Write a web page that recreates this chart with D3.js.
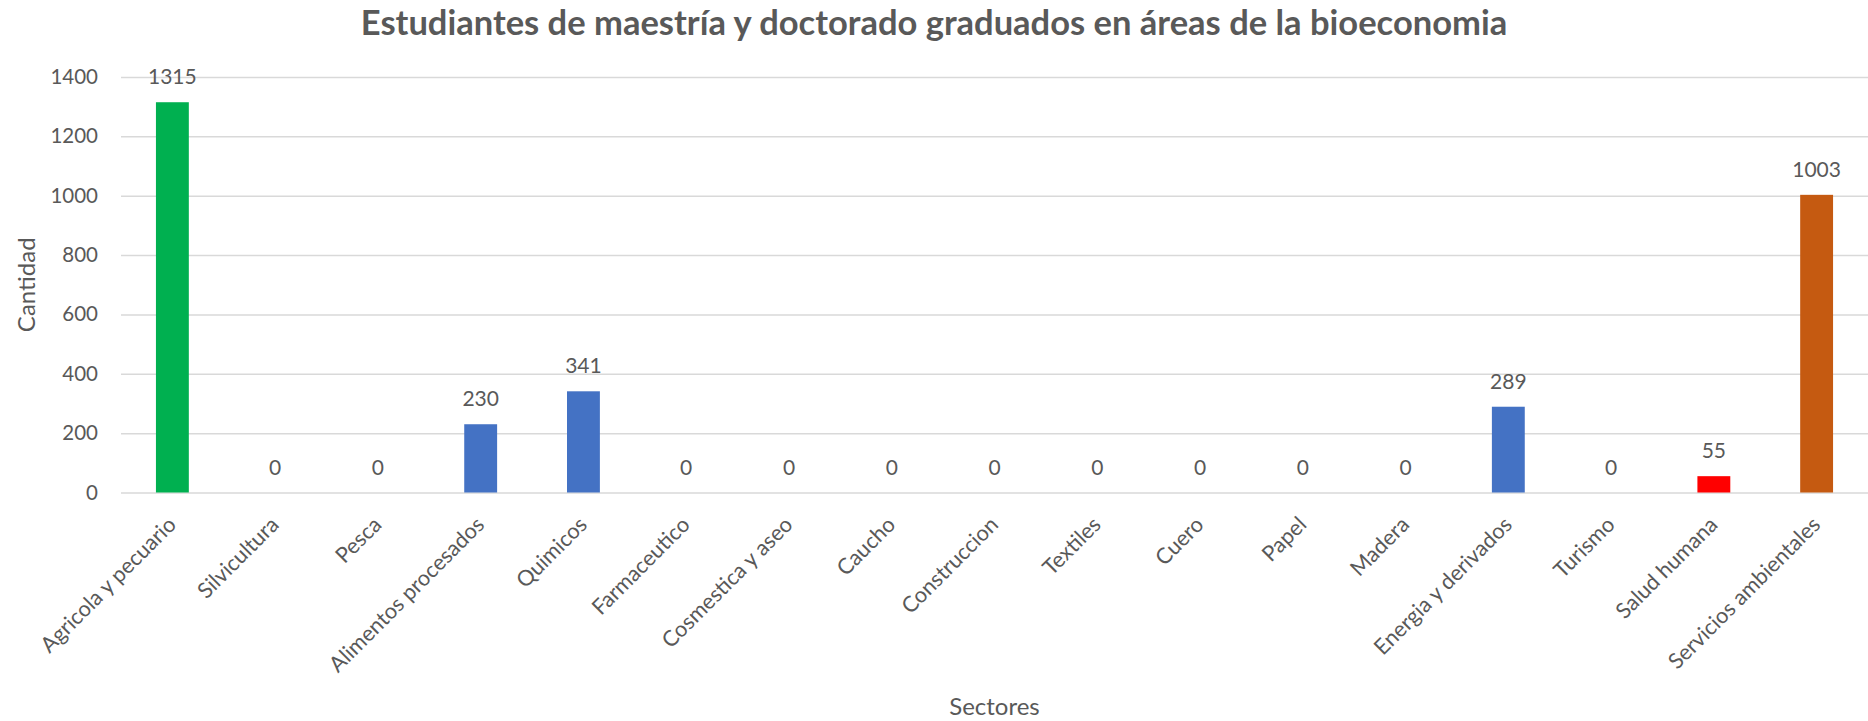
<!DOCTYPE html>
<html>
<head>
<meta charset="utf-8">
<script src="https://cdn.jsdelivr.net/npm/d3@7"></script>
<style>
  body { margin: 0; background: #fff; }
  text { font-family: Lato, "Open Sans", sans-serif; fill: #595959; }
</style>
</head>
<body>
<script>
// datos del grafico
var sectores = ["Agricola y pecuario", "Silvicultura", "Pesca", "Alimentos procesados", "Quimicos",
  "Farmaceutico", "Cosmestica y aseo", "Caucho", "Construccion", "Textiles", "Cuero", "Papel",
  "Madera", "Energia y derivados", "Turismo", "Salud humana", "Servicios ambientales"];
var cantidad = [1315, 0, 0, 230, 341, 0, 0, 0, 0, 0, 0, 0, 0, 289, 0, 55, 1003];
var colores = ["#00b050", "#4472c4", "#4472c4", "#4472c4", "#4472c4", "#4472c4", "#4472c4", "#4472c4",
  "#4472c4", "#4472c4", "#4472c4", "#4472c4", "#4472c4", "#4472c4", "#4472c4", "#ff0000", "#c55a11"];
var yTicks = [0, 200, 400, 600, 800, 1000, 1200, 1400];

var titulo = "Estudiantes de maestría y doctorado graduados en áreas de la bioeconomia";

var W = 1868, H = 721;
// area del grafico (ojo: "top" ya existe en window)
var pLeft = 121, pRight = 1868, pTop = 77, pBottom = 492.5;

var svg = d3.select("body").append("svg").attr("width", W).attr("height", H);

var x = d3.scaleBand().domain(sectores).range([pLeft, pRight]).paddingInner(0.68).paddingOuter(0.34);
var y = d3.scaleLinear().domain([0, 1400]).range([pBottom, pTop]);

// lineas de la grilla + etiquetas del eje y
var yAxis = svg.append("g")
  .attr("transform", "translate(" + pLeft + ",0)")
  .call(d3.axisLeft(y).tickValues(yTicks).tickFormat(d3.format("d"))
    .tickSize(-(pRight - pLeft)).tickPadding(23));
yAxis.select(".domain").remove();
yAxis.selectAll(".tick line").attr("stroke", "#d9d9d9").attr("stroke-width", 1.5);
yAxis.selectAll(".tick text").style("font-size", "20.5px").attr("fill", "#595959")
  .style("font-family", "Lato, 'Open Sans', sans-serif");

// barras
svg.selectAll("rect.barra")
  .data(cantidad)
  .enter()
  .append("rect")
  .attr("class", "barra")
  .attr("x", function(d, i) { return x(sectores[i]); })
  .attr("y", function(d) { return y(d); })
  .attr("width", x.bandwidth())
  .attr("height", function(d) { return pBottom - y(d); })
  .attr("fill", function(d, i) { return colores[i]; });

// etiquetas de valores
svg.selectAll("text.valor")
  .data(cantidad)
  .enter()
  .append("text")
  .attr("class", "valor")
  .attr("x", function(d, i) { return x(sectores[i]) + x.bandwidth() / 2; })
  .attr("y", function(d) { return y(d) - 18; })
  .attr("text-anchor", "middle")
  .style("font-size", "21px")
  .text(function(d) { return d; });

// etiquetas del eje x, rotadas
svg.selectAll("text.sector")
  .data(sectores)
  .enter()
  .append("text")
  .attr("class", "sector")
  .attr("text-anchor", "end")
  .attr("transform", function(d) {
    return "translate(" + (x(d) + x.bandwidth() / 2 + 5) + ",526) rotate(-45)";
  })
  .style("font-size", "21.7px")
  .text(function(d) { return d; });

// titulos
svg.append("text")
  .attr("x", W / 2).attr("y", 35)
  .attr("text-anchor", "middle")
  .style("font-size", "34.5px").style("font-weight", "bold")
  .text(titulo);

svg.append("text")
  .attr("transform", "translate(35," + ((pTop + pBottom) / 2) + ") rotate(-90)")
  .attr("text-anchor", "middle")
  .style("font-size", "24px")
  .text("Cantidad");

svg.append("text")
  .attr("x", (pLeft + pRight) / 2).attr("y", 715)
  .attr("text-anchor", "middle")
  .style("font-size", "24px")
  .text("Sectores");
</script>
</body>
</html>
